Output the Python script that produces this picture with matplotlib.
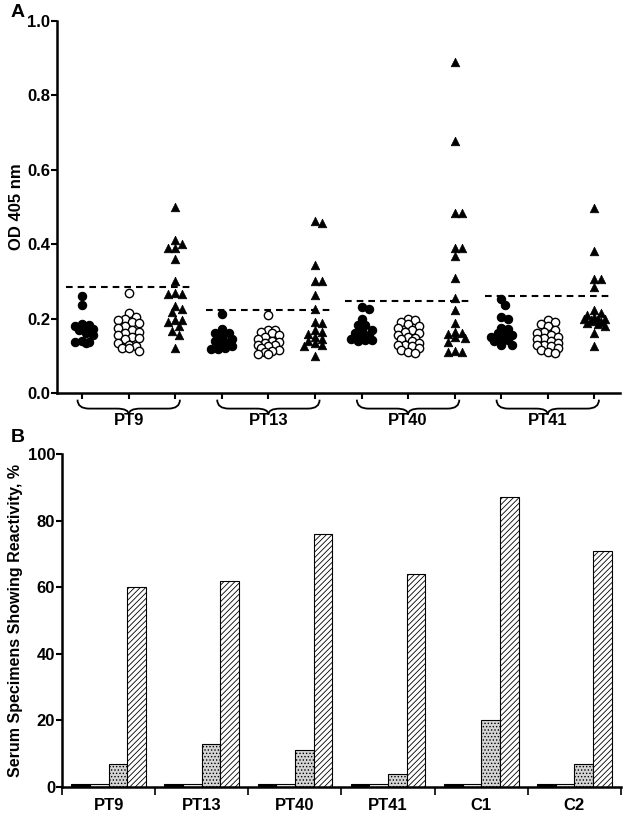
import numpy as np
import matplotlib
matplotlib.use("Agg")
import matplotlib.pyplot as plt
from matplotlib.path import Path
from matplotlib.patches import PathPatch
import matplotlib.transforms as mtransforms

plt.rcParams['font.family'] = ['Liberation Sans', 'DejaVu Sans']
plt.rcParams['font.weight'] = 'bold'
plt.rcParams['hatch.linewidth'] = 0.6

# ---- panel A data (OD 405 nm) ----
groups_a = ["PT9", "PT13", "PT40", "PT41"]
cutoffs = [0.285, 0.223, 0.247, 0.26]

pt9_filled = [0.262, 0.237, 0.185, 0.183, 0.180, 0.178, 0.172, 0.168, 0.160, 0.155, 0.140, 0.137, 0.136, 0.135]
pt9_open = [0.268, 0.215, 0.205, 0.200, 0.197, 0.190, 0.188, 0.180, 0.175, 0.170, 0.165, 0.160, 0.155,
            0.150, 0.148, 0.145, 0.135, 0.130, 0.125, 0.122, 0.120, 0.112]
pt9_tri = [0.50, 0.41, 0.39, 0.39, 0.40, 0.36, 0.30, 0.27, 0.265, 0.265, 0.233, 0.226, 0.218, 0.196,
           0.196, 0.19, 0.18, 0.167, 0.155, 0.12]

pt13_filled = [0.212, 0.171, 0.160, 0.160, 0.150, 0.145, 0.140, 0.137, 0.135, 0.125, 0.120, 0.118, 0.118]
pt13_open = [0.21, 0.17, 0.17, 0.165, 0.16, 0.155, 0.15, 0.145, 0.14, 0.138, 0.135, 0.13, 0.128, 0.125,
             0.12, 0.115, 0.112, 0.11, 0.105, 0.105]
pt13_tri = [0.462, 0.458, 0.343, 0.30, 0.30, 0.263, 0.225, 0.192, 0.188, 0.17, 0.165, 0.158, 0.15, 0.145,
            0.14, 0.135, 0.128, 0.125, 0.10]

pt40_filled = [0.232, 0.225, 0.198, 0.183, 0.182, 0.17, 0.168, 0.16, 0.155, 0.15, 0.145, 0.142, 0.142, 0.14]
pt40_open = [0.20, 0.195, 0.19, 0.185, 0.18, 0.175, 0.17, 0.165, 0.16, 0.155, 0.15, 0.148, 0.145, 0.14,
             0.135, 0.13, 0.128, 0.125, 0.12, 0.115, 0.11, 0.108]
pt40_tri = [0.889, 0.678, 0.483, 0.483, 0.389, 0.389, 0.367, 0.31, 0.255, 0.223, 0.187, 0.165, 0.16, 0.158,
            0.15, 0.148, 0.138, 0.112, 0.111, 0.11]

pt41_filled = [0.252, 0.237, 0.204, 0.198, 0.175, 0.172, 0.16, 0.158, 0.155, 0.15, 0.145, 0.142, 0.14, 0.13, 0.128]
pt41_open = [0.195, 0.19, 0.185, 0.18, 0.17, 0.165, 0.16, 0.155, 0.15, 0.148, 0.145, 0.14, 0.135, 0.13,
             0.128, 0.125, 0.12, 0.115, 0.11, 0.108]
pt41_tri = [0.496, 0.382, 0.306, 0.306, 0.286, 0.223, 0.215, 0.21, 0.205, 0.2, 0.2, 0.198, 0.195, 0.193,
            0.19, 0.188, 0.185, 0.18, 0.162, 0.126]

series_a = [
    [pt9_filled, pt9_open, pt9_tri],
    [pt13_filled, pt13_open, pt13_tri],
    [pt40_filled, pt40_open, pt40_tri],
    [pt41_filled, pt41_open, pt41_tri],
]

# ---- panel B data (% reactive) ----
groups_b = ["PT9", "PT13", "PT40", "PT41", "C1", "C2"]
bar1 = [1, 1, 1, 1, 1, 1]
bar2 = [1, 1, 1, 1, 1, 1]
bar3 = [7, 13, 11, 4, 20, 7]
bar4 = [60, 62, 76, 64, 87, 71]


def swarm(values, center, px_x, px_y, d=6.0, max_off=11.0):
    # beeswarm in pixel units, limited width; overlaps allowed when crowded
    vals = np.asarray(values)
    order = np.argsort(-vals)
    placed = []
    xs = np.zeros(len(vals))
    step = 3.5
    cands = [0.0]
    k = 1
    while k * step <= max_off:
        cands += [k * step, -k * step]
        k += 1
    for i in order:
        y = vals[i] * px_y
        best, best_d = 0.0, -1
        for off in cands:
            md = min([np.hypot(off - px, y - py) for px, py in placed] + [99])
            if md >= d:
                best = off
                break
            if md > best_d + 0.5:
                best, best_d = off, md
        placed.append((best, y))
        xs[i] = center + best / px_x
    return xs


fig = plt.figure(figsize=(6.3, 8.17), dpi=100)
axA = fig.add_axes([0.0905, 0.519, 0.8935, 0.4553])
axB = fig.add_axes([0.0984, 0.0367, 0.8873, 0.4076])

# ---- panel A ----
xlo, xhi = 0.46, 12.55
axA.set_xlim(xlo, xhi)
axA.set_ylim(0, 1.0)
px_x = 0.8935 * 630 / (xhi - xlo)
px_y = 0.4553 * 817

styles = [
    dict(marker='o', facecolors='black', edgecolors='black', s=36, linewidths=0.8),
    dict(marker='o', facecolors='white', edgecolors='black', s=36, linewidths=1.0),
    dict(marker='^', facecolors='black', edgecolors='black', s=38, linewidths=0.5),
]

for g, grp in enumerate(series_a):
    for s, vals in enumerate(grp):
        pos = 1 + 3 * g + s
        xs = swarm(vals, pos, px_x, px_y)
        axA.scatter(xs, vals, zorder=3 if s != 1 else 2, clip_on=False, **styles[s])
    p1 = 1 + 3 * g
    axA.hlines(cutoffs[g], p1 - 0.35, p1 + 2 + 0.4, colors='black', linestyles=(0, (3.2, 2.4)),
               linewidth=1.5, zorder=4)

axA.set_xticks(np.arange(1, 13))
axA.set_xticklabels([])
axA.set_yticks(np.arange(0, 1.01, 0.2))
axA.set_yticklabels([f"{v:.1f}" for v in np.arange(0, 1.01, 0.2)])
axA.set_ylabel("OD 405 nm", fontsize=12, fontweight='bold', labelpad=2)
for sp in ['top', 'right']:
    axA.spines[sp].set_visible(False)
for sp in ['left', 'bottom']:
    axA.spines[sp].set_linewidth(1.8)
axA.tick_params(axis='both', direction='out', length=4, width=1.5, labelsize=12, pad=1)

# braces under each group
trans = mtransforms.blended_transform_factory(axA.transData, axA.transAxes)
top, mid, tip = -0.018, -0.042, -0.058
r = 0.25
for g, name in enumerate(groups_a):
    x1 = 1 + 3 * g - 0.1
    x2 = 1 + 3 * g + 2 + 0.1
    xc = (x1 + x2) / 2
    verts = [(x1, top), (x1, mid), (x1 + r, mid), (xc - r, mid), (xc, mid), (xc, tip),
             (xc, mid), (xc + r, mid), (x2 - r, mid), (x2, mid), (x2, top)]
    codes = [Path.MOVETO, Path.CURVE3, Path.CURVE3, Path.LINETO, Path.CURVE3, Path.CURVE3,
             Path.CURVE3, Path.CURVE3, Path.LINETO, Path.CURVE3, Path.CURVE3]
    axA.add_patch(PathPatch(Path(verts, codes), transform=trans, fill=False, lw=1.3,
                            edgecolor='black', clip_on=False))
    axA.text(xc, -0.075, name, transform=trans, ha='center', va='center',
             fontsize=12, fontweight='bold')

fig.text(0.017, 0.985, "A", fontsize=14, fontweight='bold', va='center')

# ---- panel B ----
x = np.arange(len(groups_b))
w = 0.2
axB.bar(x - 0.3, bar1, w, color='black', edgecolor='black', lw=0.8)
axB.bar(x - 0.1, bar2, w, color='#eeeeee', edgecolor='black', lw=0.8, hatch='....')
axB.bar(x + 0.1, bar3, w, color='#d4d4d4', edgecolor='black', lw=0.8, hatch='.....')
axB.bar(x + 0.3, bar4, w, color='white', edgecolor='black', lw=0.8, hatch='//////')

axB.set_xlim(-0.5, len(groups_b) - 0.5)
axB.set_ylim(0, 100)
axB.set_yticks(np.arange(0, 101, 20))
axB.set_xticks(x)
axB.set_xticklabels(groups_b, fontsize=12, fontweight='bold')
axB.set_xticks(np.arange(-0.5, len(groups_b), 1), minor=True)
axB.tick_params(axis='x', which='major', length=0, pad=8)
axB.tick_params(axis='x', which='minor', direction='out', length=6, width=1.2)
axB.tick_params(axis='y', direction='out', length=4, width=1.5, labelsize=12, pad=1)
axB.set_ylabel("Serum Specimens Showing Reactivity, %", fontsize=11.5, fontweight='bold', labelpad=3)
for sp in ['top', 'right']:
    axB.spines[sp].set_visible(False)
for sp in ['left', 'bottom']:
    axB.spines[sp].set_linewidth(1.8)

fig.text(0.017, 0.465, "B", fontsize=14, fontweight='bold', va='center')

fig.savefig("out.png", dpi=100)
